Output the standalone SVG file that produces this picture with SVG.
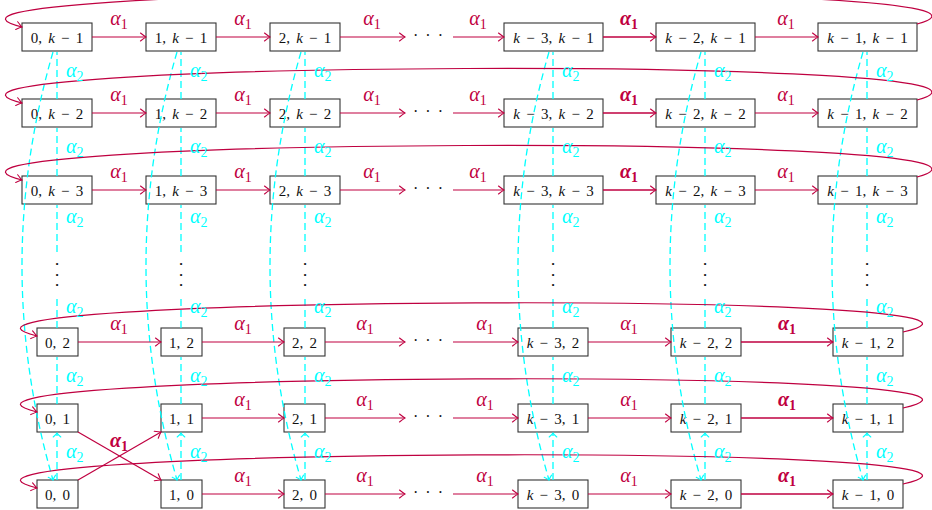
<svg xmlns="http://www.w3.org/2000/svg" width="932" height="510" viewBox="0 0 932 510">
  <style>
    .box { fill: #fff; stroke: #333; stroke-width: 1.1; }
    .nt { font-family: "Liberation Serif", serif; font-size: 15px; fill: #111; text-anchor: middle; word-spacing: 2.5px; }
    .v { font-style: italic; }
    .r { fill: none; stroke: #BF0040; stroke-width: 1.2; marker-end: url(#ar); }
    .rb { stroke-width: 1.6; }
    .c { fill: none; stroke: #00FFFF; stroke-width: 1.3; stroke-dasharray: 7 4; marker-end: url(#ac); }
    .l1 { font-family: "Liberation Serif", serif; font-style: italic; font-size: 20px; fill: #BF0040; text-anchor: middle; }
    .l2 { font-family: "Liberation Serif", serif; font-style: italic; font-size: 20px; fill: #00FFFF; }
    .b { font-weight: bold; }
    .sub { font-style: normal; font-size: 14px; }
    .dots { font-family: "Liberation Serif", serif; font-size: 16px; fill: #111; text-anchor: middle; word-spacing: 3px; }
    .vd { font-family: "Liberation Serif", serif; font-size: 9px; fill: #111; text-anchor: middle; }
  </style>
  <defs>
    <marker id="ar" viewBox="-7 -5 8 10" refX="0" refY="0" markerWidth="8" markerHeight="10" markerUnits="userSpaceOnUse" orient="auto">
      <path d="M-5.5,-4 Q-1.5,-0.8 0,0 Q-1.5,0.8 -5.5,4" fill="none" stroke="#BF0040" stroke-width="1.1" stroke-linecap="round"/>
    </marker>
    <marker id="ac" viewBox="-6 -5 7 10" refX="0" refY="0" markerWidth="7" markerHeight="10" markerUnits="userSpaceOnUse" orient="auto">
      <path d="M-4,-3.8 Q-1.2,-0.7 0,0 Q-1.2,0.7 -4,3.8" fill="none" stroke="#00FFFF" stroke-width="1.1" stroke-linecap="round"/>
    </marker>
  </defs>

  <!-- nodes: row k-1 -->
  <g id="n-0-km1"><rect class="box" x="22" y="23" width="70" height="28"/><text class="nt" x="57" y="42.5">0, <tspan class="v">k</tspan> − 1</text></g>
  <g id="n-1-km1"><rect class="box" x="146" y="23" width="70" height="28"/><text class="nt" x="181" y="42.5">1, <tspan class="v">k</tspan> − 1</text></g>
  <g id="n-2-km1"><rect class="box" x="270" y="23" width="70" height="28"/><text class="nt" x="305" y="42.5">2, <tspan class="v">k</tspan> − 1</text></g>
  <g id="n-km3-km1"><rect class="box" x="504" y="23" width="99" height="28"/><text class="nt" x="553.5" y="42.5"><tspan class="v">k</tspan> − 3, <tspan class="v">k</tspan> − 1</text></g>
  <g id="n-km2-km1"><rect class="box" x="656" y="23" width="99" height="28"/><text class="nt" x="705.5" y="42.5"><tspan class="v">k</tspan> − 2, <tspan class="v">k</tspan> − 1</text></g>
  <g id="n-km1-km1"><rect class="box" x="818" y="23" width="99" height="28"/><text class="nt" x="867.5" y="42.5"><tspan class="v">k</tspan> − 1, <tspan class="v">k</tspan> − 1</text></g>

  <!-- nodes: row k-2 -->
  <g id="n-0-km2"><rect class="box" x="22" y="99" width="70" height="28"/><text class="nt" x="57" y="118.5">0, <tspan class="v">k</tspan> − 2</text></g>
  <g id="n-1-km2"><rect class="box" x="146" y="99" width="70" height="28"/><text class="nt" x="181" y="118.5">1, <tspan class="v">k</tspan> − 2</text></g>
  <g id="n-2-km2"><rect class="box" x="270" y="99" width="70" height="28"/><text class="nt" x="305" y="118.5">2, <tspan class="v">k</tspan> − 2</text></g>
  <g id="n-km3-km2"><rect class="box" x="504" y="99" width="99" height="28"/><text class="nt" x="553.5" y="118.5"><tspan class="v">k</tspan> − 3, <tspan class="v">k</tspan> − 2</text></g>
  <g id="n-km2-km2"><rect class="box" x="656" y="99" width="99" height="28"/><text class="nt" x="705.5" y="118.5"><tspan class="v">k</tspan> − 2, <tspan class="v">k</tspan> − 2</text></g>
  <g id="n-km1-km2"><rect class="box" x="818" y="99" width="99" height="28"/><text class="nt" x="867.5" y="118.5"><tspan class="v">k</tspan> − 1, <tspan class="v">k</tspan> − 2</text></g>

  <!-- nodes: row k-3 -->
  <g id="n-0-km3"><rect class="box" x="22" y="176" width="70" height="28"/><text class="nt" x="57" y="195.5">0, <tspan class="v">k</tspan> − 3</text></g>
  <g id="n-1-km3"><rect class="box" x="146" y="176" width="70" height="28"/><text class="nt" x="181" y="195.5">1, <tspan class="v">k</tspan> − 3</text></g>
  <g id="n-2-km3"><rect class="box" x="270" y="176" width="70" height="28"/><text class="nt" x="305" y="195.5">2, <tspan class="v">k</tspan> − 3</text></g>
  <g id="n-km3-km3"><rect class="box" x="504" y="176" width="99" height="28"/><text class="nt" x="553.5" y="195.5"><tspan class="v">k</tspan> − 3, <tspan class="v">k</tspan> − 3</text></g>
  <g id="n-km2-km3"><rect class="box" x="656" y="176" width="99" height="28"/><text class="nt" x="705.5" y="195.5"><tspan class="v">k</tspan> − 2, <tspan class="v">k</tspan> − 3</text></g>
  <g id="n-km1-km3"><rect class="box" x="818" y="176" width="99" height="28"/><text class="nt" x="867.5" y="195.5"><tspan class="v">k</tspan> − 1, <tspan class="v">k</tspan> − 3</text></g>

  <!-- nodes: row 2 -->
  <g id="n-0-2"><rect class="box" x="37" y="328" width="41" height="28"/><text class="nt" x="57.5" y="347.5">0, 2</text></g>
  <g id="n-1-2"><rect class="box" x="161" y="328" width="41" height="28"/><text class="nt" x="181.5" y="347.5">1, 2</text></g>
  <g id="n-2-2"><rect class="box" x="284" y="328" width="41" height="28"/><text class="nt" x="304.5" y="347.5">2, 2</text></g>
  <g id="n-km3-2"><rect class="box" x="518" y="328" width="70" height="28"/><text class="nt" x="553" y="347.5"><tspan class="v">k</tspan> − 3, 2</text></g>
  <g id="n-km2-2"><rect class="box" x="671" y="328" width="70" height="28"/><text class="nt" x="706" y="347.5"><tspan class="v">k</tspan> − 2, 2</text></g>
  <g id="n-km1-2"><rect class="box" x="833" y="328" width="70" height="28"/><text class="nt" x="868" y="347.5"><tspan class="v">k</tspan> − 1, 2</text></g>

  <!-- nodes: row 1 -->
  <g id="n-0-1"><rect class="box" x="37" y="404" width="41" height="28"/><text class="nt" x="57.5" y="423.5">0, 1</text></g>
  <g id="n-1-1"><rect class="box" x="161" y="404" width="41" height="28"/><text class="nt" x="181.5" y="423.5">1, 1</text></g>
  <g id="n-2-1"><rect class="box" x="284" y="404" width="41" height="28"/><text class="nt" x="304.5" y="423.5">2, 1</text></g>
  <g id="n-km3-1"><rect class="box" x="518" y="404" width="70" height="28"/><text class="nt" x="553" y="423.5"><tspan class="v">k</tspan> − 3, 1</text></g>
  <g id="n-km2-1"><rect class="box" x="671" y="404" width="70" height="28"/><text class="nt" x="706" y="423.5"><tspan class="v">k</tspan> − 2, 1</text></g>
  <g id="n-km1-1"><rect class="box" x="833" y="404" width="70" height="28"/><text class="nt" x="868" y="423.5"><tspan class="v">k</tspan> − 1, 1</text></g>

  <!-- nodes: row 0 -->
  <g id="n-0-0"><rect class="box" x="37" y="480" width="41" height="28"/><text class="nt" x="57.5" y="499.5">0, 0</text></g>
  <g id="n-1-0"><rect class="box" x="161" y="480" width="41" height="28"/><text class="nt" x="181.5" y="499.5">1, 0</text></g>
  <g id="n-2-0"><rect class="box" x="284" y="480" width="41" height="28"/><text class="nt" x="304.5" y="499.5">2, 0</text></g>
  <g id="n-km3-0"><rect class="box" x="518" y="480" width="70" height="28"/><text class="nt" x="553" y="499.5"><tspan class="v">k</tspan> − 3, 0</text></g>
  <g id="n-km2-0"><rect class="box" x="671" y="480" width="70" height="28"/><text class="nt" x="706" y="499.5"><tspan class="v">k</tspan> − 2, 0</text></g>
  <g id="n-km1-0"><rect class="box" x="833" y="480" width="70" height="28"/><text class="nt" x="868" y="499.5"><tspan class="v">k</tspan> − 1, 0</text></g>

  <!-- elided columns and rows -->
  <g id="ellipses">
    <text class="dots" x="428" y="41">· · ·</text>
    <text class="dots" x="428" y="117">· · ·</text>
    <text class="dots" x="428" y="194">· · ·</text>
    <text class="dots" x="428" y="346">· · ·</text>
    <text class="dots" x="428" y="422">· · ·</text>
    <text class="dots" x="428" y="498">· · ·</text>
    <text class="vd" x="57" y="267">•</text><text class="vd" x="57" y="277.5">•</text><text class="vd" x="57" y="288">•</text>
    <text class="vd" x="181" y="267">•</text><text class="vd" x="181" y="277.5">•</text><text class="vd" x="181" y="288">•</text>
    <text class="vd" x="305" y="267">•</text><text class="vd" x="305" y="277.5">•</text><text class="vd" x="305" y="288">•</text>
    <text class="vd" x="553" y="267">•</text><text class="vd" x="553" y="277.5">•</text><text class="vd" x="553" y="288">•</text>
    <text class="vd" x="705" y="267">•</text><text class="vd" x="705" y="277.5">•</text><text class="vd" x="705" y="288">•</text>
    <text class="vd" x="867" y="267">•</text><text class="vd" x="867" y="277.5">•</text><text class="vd" x="867" y="288">•</text>
  </g>

  <g id="connectors">
    <!-- alpha_2 wrap-around: (i,k-1) to (i,0) -->
    <path class="c" d="M53 52Q-9 266 53 480"/>
    <path class="c" d="M177 52Q115 266 177 480"/>
    <path class="c" d="M301 52Q239 266 301 480"/>
    <path class="c" d="M549 52Q487 266 549 480"/>
    <path class="c" d="M701 52Q639 266 701 480"/>
    <path class="c" d="M863 52Q801 266 863 480"/>

    <!-- alpha_2 steps: (i,j) to (i,j+1) -->
    <path class="c" d="M57 99V52M57 176V128M57 252V205M57 328V296M57 404V357M57 480V433"/>
    <path class="c" d="M181 99V52M181 176V128M181 252V205M181 328V296M181 404V357M181 480V433"/>
    <path class="c" d="M305 99V52M305 176V128M305 252V205M305 328V296M305 404V357M305 480V433"/>
    <path class="c" d="M553 99V52M553 176V128M553 252V205M553 328V296M553 404V357M553 480V433"/>
    <path class="c" d="M705 99V52M705 176V128M705 252V205M705 328V296M705 404V357M705 480V433"/>
    <path class="c" d="M867 99V52M867 176V128M867 252V205M867 328V296M867 404V357M867 480V433"/>

    <!-- alpha_1 steps, rows k-1 .. k-3 -->
    <path class="r" d="M92 37H146"/><path class="r" d="M216 37H270"/><path class="r" d="M340 37H405"/>
    <path class="r" d="M453 37H504"/><path class="r rb" d="M603 37H656"/><path class="r" d="M755 37H818"/>
    <path class="r" d="M92 113H146"/><path class="r" d="M216 113H270"/><path class="r" d="M340 113H405"/>
    <path class="r" d="M453 113H504"/><path class="r rb" d="M603 113H656"/><path class="r" d="M755 113H818"/>
    <path class="r" d="M92 190H146"/><path class="r" d="M216 190H270"/><path class="r" d="M340 190H405"/>
    <path class="r" d="M453 190H504"/><path class="r rb" d="M603 190H656"/><path class="r" d="M755 190H818"/>

    <!-- alpha_1 steps, rows 2 .. 0 -->
    <path class="r" d="M78 342H161"/><path class="r" d="M202 342H284"/><path class="r" d="M325 342H405"/>
    <path class="r" d="M453 342H518"/><path class="r" d="M588 342H671"/><path class="r rb" d="M741 342H833"/>
    <path class="r" d="M202 418H284"/><path class="r" d="M325 418H405"/>
    <path class="r" d="M453 418H518"/><path class="r" d="M588 418H671"/><path class="r rb" d="M741 418H833"/>
    <path class="r" d="M202 494H284"/><path class="r" d="M325 494H405"/>
    <path class="r" d="M453 494H518"/><path class="r" d="M588 494H671"/><path class="r rb" d="M741 494H833"/>

    <!-- alpha_1 swap between (0,1) and (0,0) -->
    <path class="r" d="M78 432L161 480"/>
    <path class="r" d="M78 480L161 432"/>

    <!-- alpha_1 wrap-around: (k-1,j) to (0,j) -->
    <path class="r" d="M917 24C1080 -21 -150 -16 22 27"/>
    <path class="r" d="M917 100C1080 55 -150 60 22 103"/>
    <path class="r" d="M917 177C1080 132 -150 137 22 180"/>
    <path class="r" d="M903 332C1090 290 -135 295 37 336"/>
    <path class="r" d="M903 408C1090 366 -135 371 37 412"/>
    <path class="r" d="M903 484C1090 442 -135 447 37 488"/>

    <!-- alpha_1 labels -->
    <g id="alpha1-labels">
      <text class="l1" x="119" y="25">α<tspan class="sub" dy="4">1</tspan></text>
      <text class="l1" x="243" y="25">α<tspan class="sub" dy="4">1</tspan></text>
      <text class="l1" x="372" y="25">α<tspan class="sub" dy="4">1</tspan></text>
      <text class="l1" x="478" y="25">α<tspan class="sub" dy="4">1</tspan></text>
      <text class="l1 b" x="629" y="25">α<tspan class="sub" dy="4">1</tspan></text>
      <text class="l1" x="786" y="25">α<tspan class="sub" dy="4">1</tspan></text>
      <text class="l1" x="119" y="101">α<tspan class="sub" dy="4">1</tspan></text>
      <text class="l1" x="243" y="101">α<tspan class="sub" dy="4">1</tspan></text>
      <text class="l1" x="372" y="101">α<tspan class="sub" dy="4">1</tspan></text>
      <text class="l1" x="478" y="101">α<tspan class="sub" dy="4">1</tspan></text>
      <text class="l1 b" x="629" y="101">α<tspan class="sub" dy="4">1</tspan></text>
      <text class="l1" x="786" y="101">α<tspan class="sub" dy="4">1</tspan></text>
      <text class="l1" x="119" y="178">α<tspan class="sub" dy="4">1</tspan></text>
      <text class="l1" x="243" y="178">α<tspan class="sub" dy="4">1</tspan></text>
      <text class="l1" x="372" y="178">α<tspan class="sub" dy="4">1</tspan></text>
      <text class="l1" x="478" y="178">α<tspan class="sub" dy="4">1</tspan></text>
      <text class="l1 b" x="629" y="178">α<tspan class="sub" dy="4">1</tspan></text>
      <text class="l1" x="786" y="178">α<tspan class="sub" dy="4">1</tspan></text>
      <text class="l1" x="119" y="330">α<tspan class="sub" dy="4">1</tspan></text>
      <text class="l1" x="243" y="330">α<tspan class="sub" dy="4">1</tspan></text>
      <text class="l1" x="365" y="330">α<tspan class="sub" dy="4">1</tspan></text>
      <text class="l1" x="485" y="330">α<tspan class="sub" dy="4">1</tspan></text>
      <text class="l1" x="629" y="330">α<tspan class="sub" dy="4">1</tspan></text>
      <text class="l1 b" x="787" y="330">α<tspan class="sub" dy="4">1</tspan></text>
      <text class="l1" x="243" y="406">α<tspan class="sub" dy="4">1</tspan></text>
      <text class="l1" x="365" y="406">α<tspan class="sub" dy="4">1</tspan></text>
      <text class="l1" x="485" y="406">α<tspan class="sub" dy="4">1</tspan></text>
      <text class="l1" x="629" y="406">α<tspan class="sub" dy="4">1</tspan></text>
      <text class="l1 b" x="787" y="406">α<tspan class="sub" dy="4">1</tspan></text>
      <text class="l1" x="243" y="482">α<tspan class="sub" dy="4">1</tspan></text>
      <text class="l1" x="365" y="482">α<tspan class="sub" dy="4">1</tspan></text>
      <text class="l1" x="485" y="482">α<tspan class="sub" dy="4">1</tspan></text>
      <text class="l1" x="629" y="482">α<tspan class="sub" dy="4">1</tspan></text>
      <text class="l1 b" x="787" y="482">α<tspan class="sub" dy="4">1</tspan></text>
      <text class="l1 b" x="119" y="447">α<tspan class="sub" dy="4">1</tspan></text>
    </g>

    <!-- alpha_2 labels -->
    <g id="alpha2-labels">
      <text class="l2" x="66" y="77">α<tspan class="sub" dy="4">2</tspan></text>
      <text class="l2" x="66" y="153">α<tspan class="sub" dy="4">2</tspan></text>
      <text class="l2" x="66" y="223">α<tspan class="sub" dy="4">2</tspan></text>
      <text class="l2" x="66" y="313">α<tspan class="sub" dy="4">2</tspan></text>
      <text class="l2" x="66" y="382">α<tspan class="sub" dy="4">2</tspan></text>
      <text class="l2" x="66" y="458">α<tspan class="sub" dy="4">2</tspan></text>
      <text class="l2" x="190" y="77">α<tspan class="sub" dy="4">2</tspan></text>
      <text class="l2" x="190" y="153">α<tspan class="sub" dy="4">2</tspan></text>
      <text class="l2" x="190" y="223">α<tspan class="sub" dy="4">2</tspan></text>
      <text class="l2" x="190" y="313">α<tspan class="sub" dy="4">2</tspan></text>
      <text class="l2" x="190" y="382">α<tspan class="sub" dy="4">2</tspan></text>
      <text class="l2" x="190" y="458">α<tspan class="sub" dy="4">2</tspan></text>
      <text class="l2" x="314" y="77">α<tspan class="sub" dy="4">2</tspan></text>
      <text class="l2" x="314" y="153">α<tspan class="sub" dy="4">2</tspan></text>
      <text class="l2" x="314" y="223">α<tspan class="sub" dy="4">2</tspan></text>
      <text class="l2" x="314" y="313">α<tspan class="sub" dy="4">2</tspan></text>
      <text class="l2" x="314" y="382">α<tspan class="sub" dy="4">2</tspan></text>
      <text class="l2" x="314" y="458">α<tspan class="sub" dy="4">2</tspan></text>
      <text class="l2" x="562" y="77">α<tspan class="sub" dy="4">2</tspan></text>
      <text class="l2" x="562" y="153">α<tspan class="sub" dy="4">2</tspan></text>
      <text class="l2" x="562" y="223">α<tspan class="sub" dy="4">2</tspan></text>
      <text class="l2" x="562" y="313">α<tspan class="sub" dy="4">2</tspan></text>
      <text class="l2" x="562" y="382">α<tspan class="sub" dy="4">2</tspan></text>
      <text class="l2" x="562" y="458">α<tspan class="sub" dy="4">2</tspan></text>
      <text class="l2" x="714" y="77">α<tspan class="sub" dy="4">2</tspan></text>
      <text class="l2" x="714" y="153">α<tspan class="sub" dy="4">2</tspan></text>
      <text class="l2" x="714" y="223">α<tspan class="sub" dy="4">2</tspan></text>
      <text class="l2" x="714" y="313">α<tspan class="sub" dy="4">2</tspan></text>
      <text class="l2" x="714" y="382">α<tspan class="sub" dy="4">2</tspan></text>
      <text class="l2" x="714" y="458">α<tspan class="sub" dy="4">2</tspan></text>
      <text class="l2" x="876" y="77">α<tspan class="sub" dy="4">2</tspan></text>
      <text class="l2" x="876" y="153">α<tspan class="sub" dy="4">2</tspan></text>
      <text class="l2" x="876" y="223">α<tspan class="sub" dy="4">2</tspan></text>
      <text class="l2" x="876" y="313">α<tspan class="sub" dy="4">2</tspan></text>
      <text class="l2" x="876" y="382">α<tspan class="sub" dy="4">2</tspan></text>
      <text class="l2" x="876" y="458">α<tspan class="sub" dy="4">2</tspan></text>
    </g>
  </g>
</svg>
